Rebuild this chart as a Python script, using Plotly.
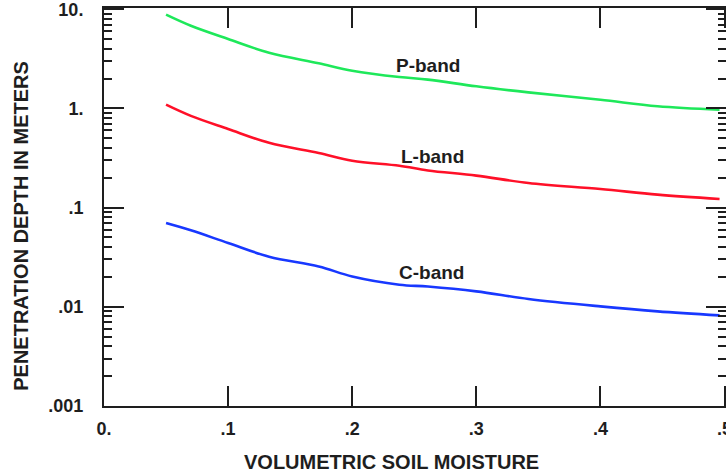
import math
import plotly.graph_objects as go

# Data
moisture = [0.05, 0.07, 0.10, 0.133, 0.173, 0.20, 0.238, 0.261, 0.30, 0.342, 0.40, 0.446, 0.496]
p_band = [8.8, 6.8, 5.0, 3.64, 2.85, 2.40, 2.07, 1.95, 1.67, 1.45, 1.22, 1.05, 0.97]
l_band = [1.09, 0.84, 0.62, 0.45, 0.355, 0.297, 0.264, 0.237, 0.21, 0.177, 0.154, 0.135, 0.122]
c_band = [0.070, 0.059, 0.044, 0.032, 0.0255, 0.0202, 0.0167, 0.0160, 0.0143, 0.0120, 0.0101, 0.0090, 0.0082]

x_ticks = [0, 0.1, 0.2, 0.3, 0.4, 0.5]
x_ticktext = ["0.", ".1", ".2", ".3", ".4", ".5"]
y_ticks = [0.001, 0.01, 0.1, 1, 10]
y_ticktext = [".001", ".01", ".1", "1.", "10."]

labels = ["P-band", "L-band", "C-band"]
label_x = [0.2614, 0.2647, 0.264]
label_y = [2.69, 0.326, 0.0223]

FONT = "Liberation Sans, Arial, Helvetica, sans-serif"
INK = "#1e1e1e"

minor_vals = [m * 10 ** e for e in range(-3, 1) for m in range(2, 10)]

fig = go.Figure()
for name, ys, col in [("P-band", p_band, "#1ee85a"), ("L-band", l_band, "#ff1028"), ("C-band", c_band, "#1838ff")]:
    fig.add_trace(go.Scatter(x=moisture, y=ys, mode="lines", name=name,
                             line=dict(color=col, width=2.6, shape="spline", smoothing=1.0),
                             showlegend=False))

for t, lx, ly in zip(labels, label_x, label_y):
    fig.add_annotation(x=lx, y=math.log10(ly), yref="y", xref="x", text=t, showarrow=False,
                       xanchor="center", yanchor="middle",
                       font=dict(family=FONT, size=19, color=INK, weight="bold"))

fig.add_annotation(x=0.463, xref="paper", y=-0.141, yref="paper", text="VOLUMETRIC SOIL MOISTURE",
                   showarrow=False, xanchor="center", yanchor="middle",
                   font=dict(family=FONT, size=20, color=INK, weight="bold"))
fig.add_annotation(x=-0.134, xref="paper", y=0.452, yref="paper", text="PENETRATION DEPTH IN METERS",
                   textangle=-90, showarrow=False, xanchor="center", yanchor="middle",
                   font=dict(family=FONT, size=20, color=INK, weight="bold"))

fig.update_xaxes(range=[-0.00001, 0.5012], tickvals=x_ticks, ticktext=x_ticktext,
                 ticks="inside", ticklen=20, tickwidth=2, tickcolor=INK,
                 showline=True, linewidth=2, linecolor=INK, mirror="ticks",
                 showgrid=False, zeroline=False, ticklabeloverflow="allow", ticklabelstandoff=5,
                 tickfont=dict(family=FONT, size=18, color=INK, weight="bold"))
fig.update_yaxes(type="log", range=[-3.0001, 1.012], tickvals=y_ticks, ticktext=y_ticktext,
                 ticks="inside", ticklen=20, tickwidth=2, tickcolor=INK,
                 showline=True, linewidth=2, linecolor=INK, mirror="ticks",
                 showgrid=False, zeroline=False, ticklabelstandoff=15, ticklabeloverflow="allow",
                 minor=dict(tickmode="array", tickvals=minor_vals, ticks="inside",
                            ticklen=8, tickwidth=2, tickcolor=INK, showgrid=False),
                 tickfont=dict(family=FONT, size=18, color=INK, weight="bold"))

fig.update_layout(width=726, height=472, margin=dict(l=104, r=0, t=8, b=66, autoexpand=False),
                  paper_bgcolor="white", plot_bgcolor="white")

fig.write_html("out.html", config={"displayModeBar": False},
               post_script="document.body.style.margin='0';document.body.style.overflow='hidden';")
